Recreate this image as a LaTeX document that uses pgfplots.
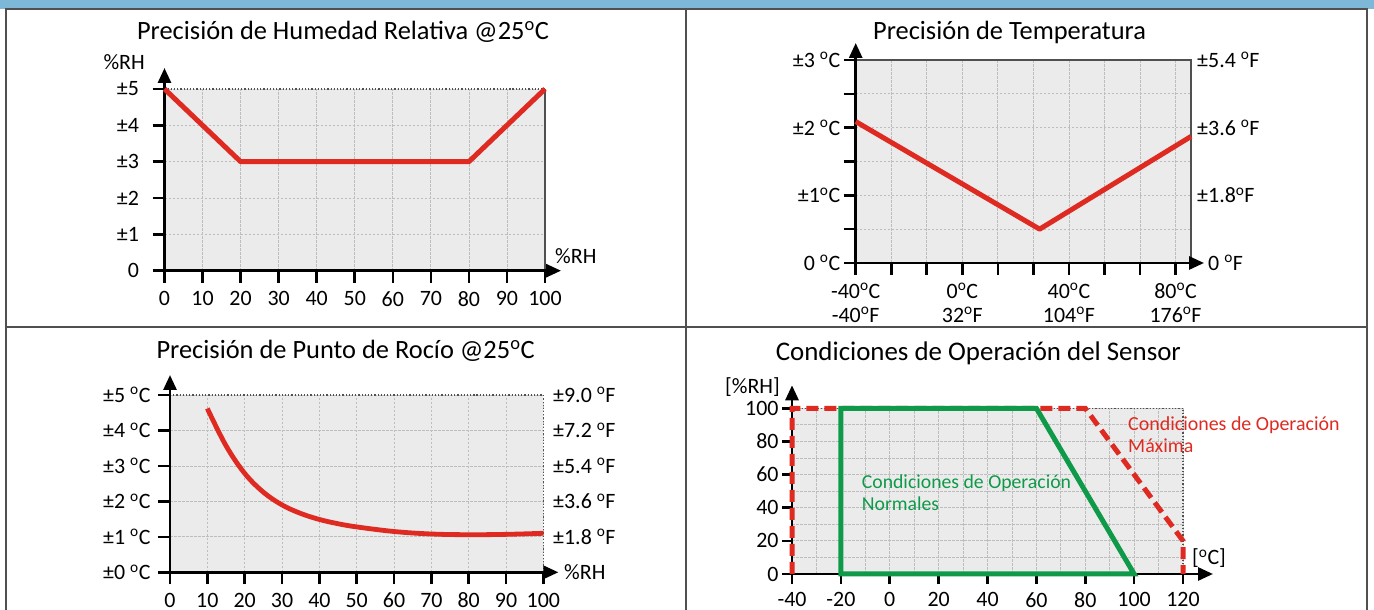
\documentclass[border=0pt]{standalone}
\usepackage{pgfplots}
\pgfplotsset{compat=1.18}
\usepackage{fontspec}
\setmainfont{Carlito}
\usetikzlibrary{arrows.meta}
\definecolor{bord}{HTML}{505050}
\definecolor{topblue}{HTML}{7DB8D8}
\definecolor{lred}{HTML}{DE2A20}
\definecolor{lgreen}{HTML}{0E9A48}
\definecolor{bg}{HTML}{EBEBEB}
\definecolor{gridc}{HTML}{BDBDBD}
\newcommand{\dg}{\textsuperscript{o}}
\newcommand{\fs}[1]{\fontsize{#1}{#1}\selectfont}
\tikzset{axarrow/.style={line width=2.8bp, black, -{Triangle[width=13bp,length=15bp]}}}
\pgfplotsset{
 panel/.style={
   scale only axis, anchor=south west, clip=false,
   axis x line*=bottom, axis y line*=left,
   axis line style={draw=none},
   tick align=outside,
   major tick length=12bp, minor tick length=0bp,
   tick style={black, line width=2.6bp},
   grid=both,
   major grid style={gridc, dash pattern=on 2.5bp off 1.5bp, line width=0.8bp},
   minor grid style={gridc, dash pattern=on 2.5bp off 1.5bp, line width=0.8bp},
   axis background/.style={fill=bg},
   tick label style={font=\fontsize{22}{24}\selectfont},
   xticklabel style={yshift=-5bp},
   enlargelimits=false,
 },
}
\begin{document}
\begin{tikzpicture}[x=1bp,y=1bp]
\useasboundingbox (0,0) rectangle (1374,610);
\clip (0,0) rectangle (1374,610);
\fill[topblue] (0,601) rectangle (1374,610);
\draw[bord, line width=2bp] (6,0) -- (6,601) -- (1367,601) -- (1367,0);
\draw[bord, line width=2bp] (686,0) -- (686,601);
\draw[bord, line width=2bp] (6,283) -- (1367,283);

% Titles
\node[anchor=base, inner sep=0pt, font=\fs{26.5}] at (343,570) {Precisión de Humedad Relativa @25\dg C};
\node[anchor=base, inner sep=0pt, font=\fs{26.5}] at (1009.5,570) {Precisión de Temperatura};
\node[anchor=base, inner sep=0pt, font=\fs{26.5}] at (345.6,251.7) {Precisión de Punto de Rocío @25\dg C};
\node[anchor=base, inner sep=0pt, font=\fs{27}] at (978.4,249.3) {Condiciones de Operación del Sensor};

% Panel 1
\begin{axis}[panel, at={(164.5bp,339.3bp)}, width=380.5bp, height=181.7bp,
  xmin=0, xmax=100, ymin=0, ymax=5,
  xtick={0,10,...,100}, xticklabels={0,10,20,30,40,50,60,70,80,90,100},
  ytick={0,1,...,5}, yticklabels={0,±1,±2,±3,±4,±5},
  yticklabel style={xshift=-10bp}]
\draw[bord, dotted, line width=1.2bp] (rel axis cs:0,1) -- (rel axis cs:1,1);
\draw[bord, line width=1.4bp] (rel axis cs:1,0) -- (rel axis cs:1,1);
\draw[axarrow] (rel axis cs:0,0) -- ([yshift=21bp]rel axis cs:0,1);
\draw[axarrow] (rel axis cs:0,0) -- ([xshift=16bp]rel axis cs:1,0);
\addplot[lred, line width=5bp, line join=round] coordinates {(0,5) (20,3) (80,3) (100,5)};
\end{axis}
\node[anchor=base east, inner sep=0pt, font=\fs{22}] at (145,540) {\%RH};
\node[anchor=base west, inner sep=0pt, font=\fs{22}] at (555,346.7) {\%RH};

% Panel 2
\begin{axis}[panel, at={(855.7bp,347bp)}, width=335.3bp, height=203bp,
  xmin=-40, xmax=85.8, ymin=0, ymax=3,
  xtick={-40,-26.6667,-13.3333,0,13.3333,26.6667,40,53.3333,66.6667,80},
  xticklabels={{-40\dg C\\-40\dg F},,,{0\dg C\\32\dg F},,,{40\dg C\\104\dg F},,,{80\dg C\\176\dg F}},
  xticklabel style={align=center},
  ytick={0,0.5,...,3},
  yticklabels={0 \dg C,,±1\dg C,,±2 \dg C,,±3 \dg C}]
\draw[bord, line width=1.4bp] (rel axis cs:0,1) -- (rel axis cs:1,1) -- (rel axis cs:1,0);
\draw[axarrow] (rel axis cs:0,0) -- ([yshift=17bp]rel axis cs:0,1);
\draw[axarrow] (rel axis cs:0,0) -- ([xshift=13bp]rel axis cs:1,0);
\addplot[lred, line width=5bp, line join=round] coordinates {(-40,2.09) (29,0.5) (85.8,1.87)};
\node[anchor=west, inner sep=0pt, font=\fs{22}] at ([xshift=6bp]axis cs:85.8,3) {±5.4 \dg F};
\node[anchor=west, inner sep=0pt, font=\fs{22}] at ([xshift=6bp]axis cs:85.8,2) {±3.6 \dg F};
\node[anchor=west, inner sep=0pt, font=\fs{22}] at ([xshift=6bp]axis cs:85.8,1) {±1.8\dg F};
\node[anchor=west, inner sep=0pt, font=\fs{22}] at ([xshift=17bp]axis cs:85.8,0) {0 \dg F};
\end{axis}

% Panel 3
\begin{axis}[panel, at={(170bp,37.7bp)}, width=373.4bp, height=177.3bp,
  xmin=0, xmax=100, ymin=0, ymax=5,
  xtick={0,10,...,100}, xticklabels={0,10,20,30,40,50,60,70,80,90,100},
  ytick={0,1,...,5}, yticklabels={±0 \dg C,±1 \dg C,±2 \dg C,±3 \dg C,±4 \dg C,±5 \dg C},
  yticklabel style={xshift=-4bp}]
\draw[bord, dotted, line width=1.2bp] (rel axis cs:0,1) -- (rel axis cs:1,1) -- (rel axis cs:1,0);
\draw[axarrow] (rel axis cs:0,0) -- ([yshift=20bp]rel axis cs:0,1);
\draw[axarrow] (rel axis cs:0,0) -- ([xshift=15bp]rel axis cs:1,0);
\addplot[lred, line width=4.8bp, smooth, tension=0.6] coordinates {(10,4.62) (15,3.57) (20,2.79) (25,2.26) (30,1.90) (35,1.66) (40,1.49) (45,1.37) (50,1.28) (60,1.15) (70,1.08) (80,1.06) (90,1.07) (100,1.10)};
\node[anchor=west, inner sep=0pt, font=\fs{22}] at ([xshift=9.6bp]axis cs:100,5) {±9.0 \dg F};
\node[anchor=west, inner sep=0pt, font=\fs{22}] at ([xshift=9.6bp]axis cs:100,4) {±7.2 \dg F};
\node[anchor=west, inner sep=0pt, font=\fs{22}] at ([xshift=9.6bp]axis cs:100,3) {±5.4 \dg F};
\node[anchor=west, inner sep=0pt, font=\fs{22}] at ([xshift=9.6bp]axis cs:100,2) {±3.6 \dg F};
\node[anchor=west, inner sep=0pt, font=\fs{22}] at ([xshift=9.6bp]axis cs:100,1) {±1.8 \dg F};
\end{axis}
\node[anchor=base west, inner sep=0pt, font=\fs{22}] at (564,30) {\%RH};

% Panel 4
\begin{axis}[panel, at={(792bp,36bp)}, width=391bp, height=165.7bp,
  xmin=-40, xmax=120, ymin=0, ymax=100,
  major tick length=10bp,
  xtick={-40,-20,...,120}, xticklabels={-40,-20,0,20,40,60,80,100,120},
  minor xtick={-30,-10,...,110},
  ytick={0,20,...,100}, yticklabels={0,20,40,60,80,100},
  minor ytick={10,30,...,90}]
\draw[bord, dotted, line width=1.2bp] (rel axis cs:0,1) -- (rel axis cs:1,1) -- (rel axis cs:1,0);
\draw[axarrow] (rel axis cs:0,0) -- ([yshift=23bp]rel axis cs:0,1);
\draw[axarrow] (rel axis cs:0,0) -- ([xshift=30bp]rel axis cs:1,0);
\addplot[lred, line width=5bp, dash pattern=on 12bp off 6bp] coordinates {(-40,0) (-40,100) (80,100) (120,20) (120,0)};
\addplot[lgreen, line width=5bp, line join=miter] coordinates {(-20,0) (-20,100) (60,100) (100,0)} --cycle;
\node[anchor=west, align=left, inner sep=0pt, text=lgreen, font=\fontsize{19.8}{21.7}\selectfont] at (axis cs:-11.5,49.2) {Condiciones de Operación\\Normales};
\node[anchor=west, align=left, inner sep=0pt, text=lred, font=\fontsize{20}{22.7}\selectfont] at (axis cs:97.5,84) {Condiciones de Operación\\Máxima};
\end{axis}
\node[anchor=base east, inner sep=0pt, font=\fs{22}] at (780,216.7) {[\%RH]};
\node[anchor=base west, inner sep=0pt, font=\fs{22}] at (1192,45) {[\dg C]};
\end{tikzpicture}
\end{document}
